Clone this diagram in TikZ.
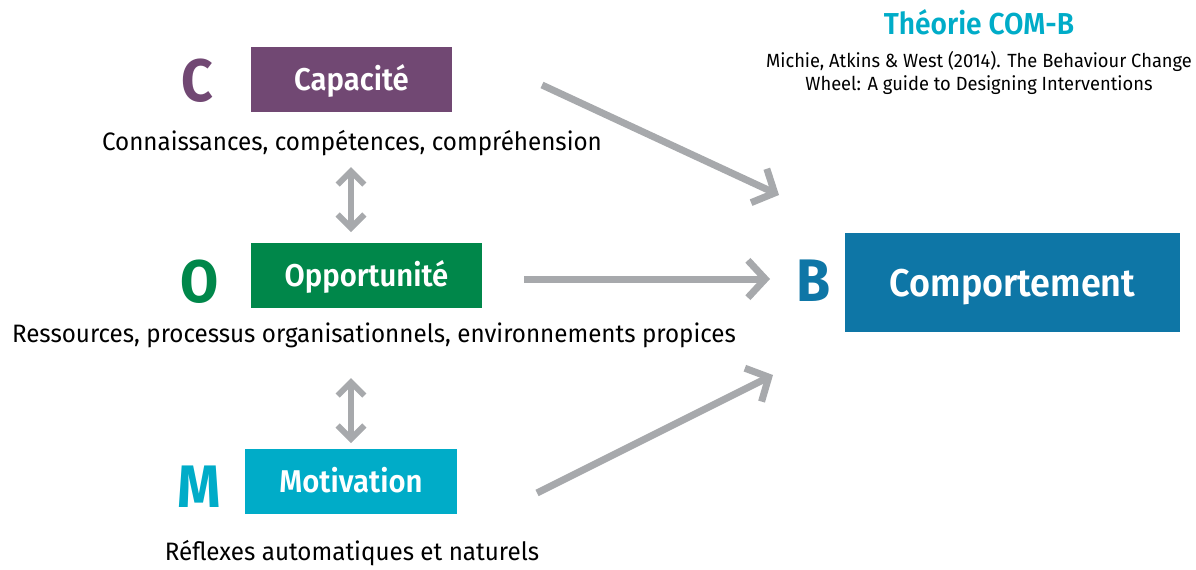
\documentclass[tikz,border=0pt]{standalone}
\usepackage{fontspec}
\setmainfont{Fira Sans}[FakeStretch=0.96,BoldFont={Fira Sans SemiBold},BoldFeatures={FakeStretch=0.93}]
\newfontfamily\letterfont{Fira Sans Bold}[FakeStretch=0.92]
\usetikzlibrary{arrows.meta}
\definecolor{capcol}{RGB}{113,72,115}
\definecolor{oppcol}{RGB}{0,135,74}
\definecolor{motcol}{RGB}{0,172,200}
\definecolor{compcol}{RGB}{14,118,166}
\definecolor{arrowgrey}{RGB}{167,169,172}
\begin{document}
\begin{tikzpicture}[x=0.75pt,y=0.75pt,yscale=-1,xscale=1,
  box/.style={fill=#1, text=white, inner sep=0pt, text height=17pt, text depth=0pt, minimum height=48.75pt, font=\fontsize{23.6}{28}\selectfont\bfseries},
  letter/.style={text=#1, inner sep=0pt, font=\fontsize{45}{50}\letterfont},
  desc/.style={anchor=base, inner sep=0pt, font=\fontsize{18.9}{22}\selectfont},
  flow/.style={draw=arrowgrey, line width=5.25pt, -{Straight Barb[length=13pt,width=28pt]}},
  link/.style={draw=arrowgrey, line width=4.5pt, {Straight Barb[length=10pt,width=20pt]}-{Straight Barb[length=10pt,width=20pt]}}]
\useasboundingbox (0,0) rectangle (1196,569);
% boxes
\node [box=capcol, minimum width=150.75pt] (cap) at (351.5,79.5) {Capacité};
\node [box=oppcol, minimum width=173.25pt] (opp) at (366.5,275.5) {Opportunité};
\node [box=motcol, minimum width=159pt] (mot) at (351,481.5) {Motivation};
\node [box=compcol, minimum width=251.25pt, minimum height=74.25pt, text height=21pt, font=\fontsize{29}{34}\selectfont\bfseries] (comp) at (1012.5,282.5) {Comportement};
% letters
\node [letter=capcol] (lc) at (197,81) {C};
\node [letter=oppcol] (lo) at (200,281.5) {O};
\node [letter=motcol] (lm) at (199,487) {M};
\node [letter=compcol] (lb) at (814,281) {B};
% texts
\node [desc] (capdesc) at (352,150) {Connaissances, compétences, compréhension};
\node [desc] (oppdesc) at (374,342) {Ressources, processus organisationnels, environnements propices};
\node [desc] (motdesc) at (352,560) {Réflexes automatiques et naturels};
\node [anchor=base, inner sep=0pt, text=motcol, font=\fontsize{22.7}{27}\selectfont\bfseries] (title) at (979,34) {Théorie COM-B};
\node [anchor=base, inner sep=0pt, align=center, font=\fontsize{14.3}{17.25}\selectfont] (source) at (979,90) {Michie, Atkins \& West (2014). The Behaviour Change\\Wheel: A guide to Designing Interventions};
% arrow ends
\coordinate (capout) at (542,85);
\coordinate (bcap) at (779,195);
\coordinate (oppout) at (524,279);
\coordinate (bopp) at (770,279);
\coordinate (motout) at (537,493);
\coordinate (bmot) at (773,375);
\coordinate (co1) at (351,167);
\coordinate (co2) at (351,232);
\coordinate (om1) at (351,378);
\coordinate (om2) at (351,443);
\draw [flow] (capout) -- (bcap);
\draw [flow] (oppout) -- (bopp);
\draw [flow] (motout) -- (bmot);
\draw [link] (co1) -- (co2);
\draw [link] (om1) -- (om2);
\end{tikzpicture}
\end{document}
